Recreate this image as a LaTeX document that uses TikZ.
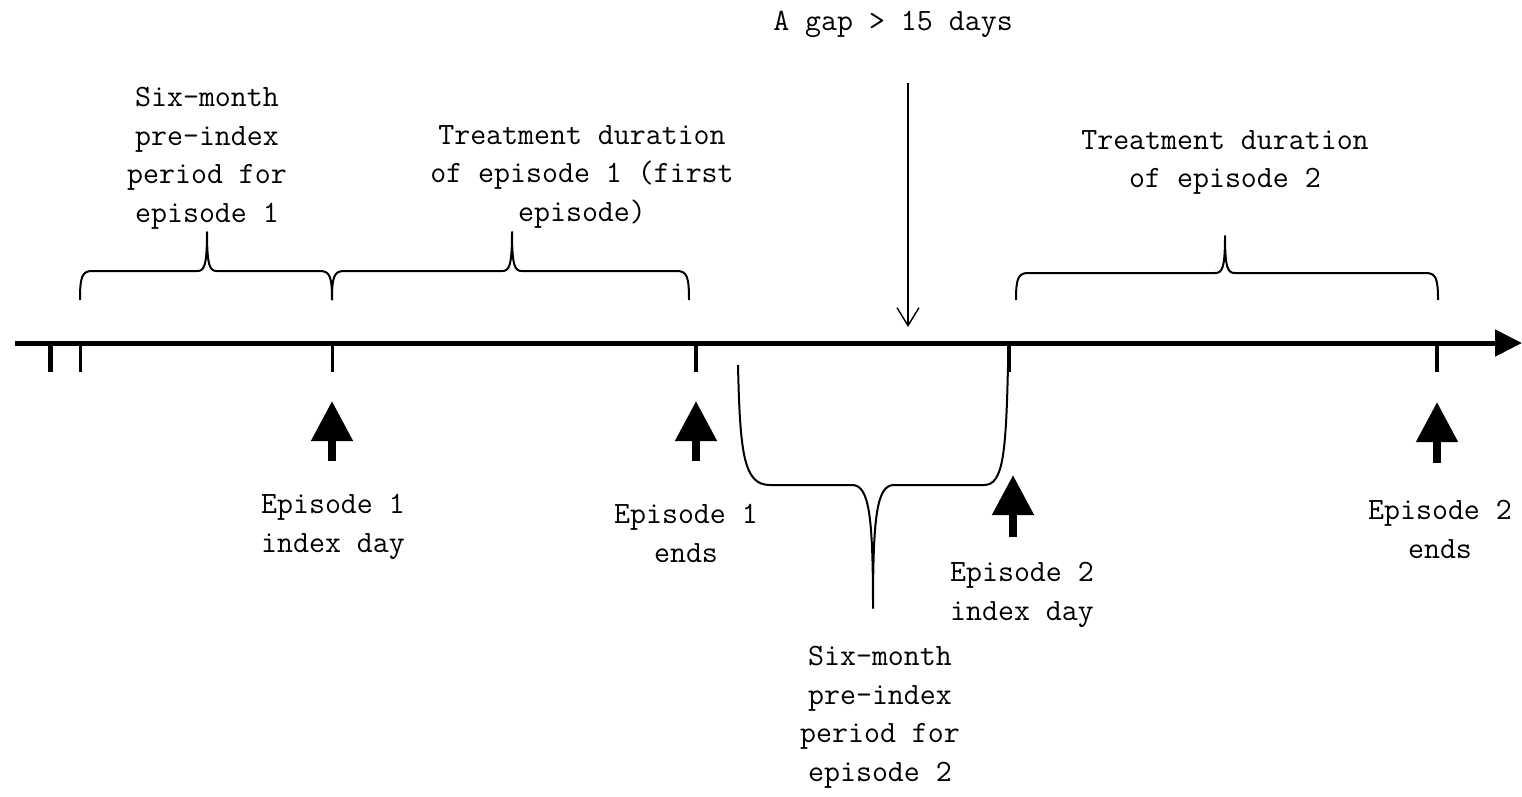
\documentclass[tikz,border=0pt]{standalone}
\usepackage{fontspec}
\usetikzlibrary{arrows.meta}
\newcommand{\lblfont}{\ttfamily\fontsize{31}{38.5}\selectfont}
\tikzset{
  lbl/.style={font=\lblfont, align=center, inner sep=0pt, anchor=north},
  axisline/.style={line width=5pt, -{Triangle[width=26pt,length=27pt]}},
  bigarrow/.style={line width=8pt, -{Triangle[width=40pt,length=40pt]}},
  bracecurve/.style={line width=2pt, line join=round},
  gaparrow/.style={line width=1.4pt, -{Straight Barb[width=22pt,length=18pt,line width=1.4pt]}}
}
% upward curly brace: left end, right end, middle x, tip y, bar y, peak y
\newcommand{\upbrace}[6]{%
  \draw[bracecurve] (#1,#4) .. controls (#1,#5+6) and (#1+2,#5) .. (#1+12,#5)
    -- (#3-10,#5) .. controls (#3-3,#5) and (#3,#5-4) .. (#3,#6)
    .. controls (#3,#5-4) and (#3+3,#5) .. (#3+10,#5)
    -- (#2-12,#5) .. controls (#2-2,#5) and (#2,#5+6) .. (#2,#4);}
\begin{document}
\begin{tikzpicture}[x=1pt,y=-1pt]
\useasboundingbox (0,0) rectangle (1522,796);

% time axis
\coordinate (ax0) at (15,343);
\coordinate (ax1) at (1522,343);
\draw[axisline] (ax0) -- (ax1);

% ticks under the axis
\foreach \n/\x/\w in {t0/50/5, t1/80/3, t2/332/3, t3/696/4, t4/1009/4, t5/1437/4} {
  \coordinate (\n) at (\x,343);
  \draw[line width=\w pt] (\n) -- ++(0,29);
}

% markers for the episode boundaries
\coordinate (m1) at (332,461); \coordinate (m1t) at (332,401);
\coordinate (m2) at (696,461); \coordinate (m2t) at (696,401);
\coordinate (m3) at (1013,537); \coordinate (m3t) at (1013,475);
\coordinate (m4) at (1437,463); \coordinate (m4t) at (1437,402);
\draw[bigarrow] (m1) -- (m1t);
\draw[bigarrow] (m2) -- (m2t);
\draw[bigarrow] (m3) -- (m3t);
\draw[bigarrow] (m4) -- (m4t);

% braces above the axis
\upbrace{80}{332}{207}{300}{271}{232}
\upbrace{332}{689}{512}{300}{271}{232}
\upbrace{1016}{1438}{1225}{300}{273}{236}

% brace below the axis
\draw[bracecurve] (738,365) .. controls (740,455) and (744,485) .. (770,485)
  -- (852,485) .. controls (869,485) and (873,515) .. (873,608)
  .. controls (873,515) and (877,485) .. (894,485)
  -- (984,485) .. controls (1003,485) and (1006,455) .. (1008,365);

% gap marker
\node[lbl] (gap) at (893,11) {A gap > 15 days};
\coordinate (gapa) at (908,83);
\coordinate (gapb) at (908,327);
\draw[gaparrow] (gapa) -- (gapb);

% labels
\node[lbl] (pre1) at (207,87) {Six-month\\pre-index\\period for\\episode 1};
\node[lbl] (trt1) at (582,125) {Treatment duration\\of episode 1 (first\\episode)};
\node[lbl] (trt2) at (1225,130) {Treatment duration\\of episode 2};
\node[lbl] (idx1) at (333,494) {Episode 1\\index day};
\node[lbl] (end1) at (686,504) {Episode 1\\ends};
\node[lbl] (idx2) at (1022,562) {Episode 2\\index day};
\node[lbl] (end2) at (1440,500) {Episode 2\\ends};
\node[lbl] (pre2) at (880,646) {Six-month\\pre-index\\period for\\episode 2};
\end{tikzpicture}
\end{document}
